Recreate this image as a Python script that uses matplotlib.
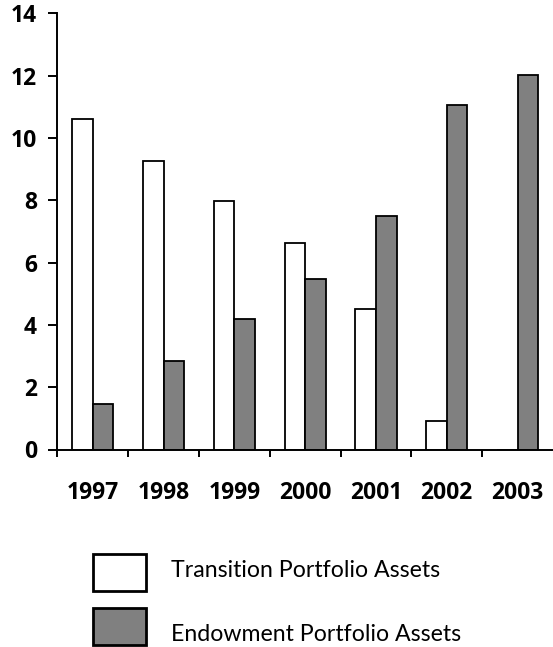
import matplotlib
matplotlib.use("Agg")
import matplotlib.pyplot as plt
import numpy as np
from matplotlib.patches import Rectangle

plt.rcParams['font.family'] = ['Lato', 'DejaVu Sans']

years = ['1997', '1998', '1999', '2000', '2001', '2002', '2003']
transition = [10.6, 9.25, 7.98, 6.64, 4.5, 0.91, 0]
endowment = [1.47, 2.84, 4.19, 5.47, 7.48, 11.06, 12.03]
legend_labels = ['Transition Portfolio Assets', 'Endowment Portfolio Assets']
colors = ['white', '#808080']

W, H = 553, 647
fig = plt.figure(figsize=(W / 100, H / 100), dpi=100)

# axes box in pixels: y axis at x=57, x axis at y=449.5, top at y=13.3
ax = fig.add_axes([57.3 / W, (H - 449.5) / H, 1 - 57.3 / W, (449.5 - 13.3) / H])

x = np.arange(len(years))
bw = 0.29
ax.bar(x - bw / 2, transition, bw, color=colors[0], edgecolor='black', linewidth=1.3)
ax.bar(x + bw / 2, endowment, bw, color=colors[1], edgecolor='black', linewidth=1.3)

ax.set_xlim(-0.5, 6.5)
ax.set_ylim(0, 14)
ax.set_yticks(range(0, 15, 2))
ax.set_xticks(x)
ax.set_xticklabels(years)
ax.set_xticks(np.arange(-0.5, 6, 1), minor=True)

for s in ['top', 'right']:
    ax.spines[s].set_visible(False)
for s in ['left', 'bottom']:
    ax.spines[s].set_linewidth(1.4)

ax.tick_params(axis='y', direction='out', length=6.2, width=1.4, pad=8.5)
ax.tick_params(axis='x', which='major', length=0, pad=22.5)
ax.tick_params(axis='x', which='minor', direction='out', length=5, width=1.4)
# tick labels: heavy bold face
for lab in ax.get_xticklabels() + ax.get_yticklabels():
    lab.set_family(['Open Sans', 'DejaVu Sans'])
    lab.set_fontweight('bold')
    lab.set_fontsize(16.5)

# legend drawn by hand below the axes
box_tops = [554.3, 608.3]
baselines = [577, 641]
for top, base, c, lab in zip(box_tops, baselines, colors, legend_labels):
    fig.add_artist(Rectangle((93.3 / W, (H - top - 36.4) / H), 52.4 / W, 36.4 / H,
                             transform=fig.transFigure, facecolor=c,
                             edgecolor='black', linewidth=2))
    fig.text(170.7 / W, (H - base) / H, lab, fontsize=16.7, va='baseline',
             ha='left')

fig.savefig('out.png', dpi=100)
